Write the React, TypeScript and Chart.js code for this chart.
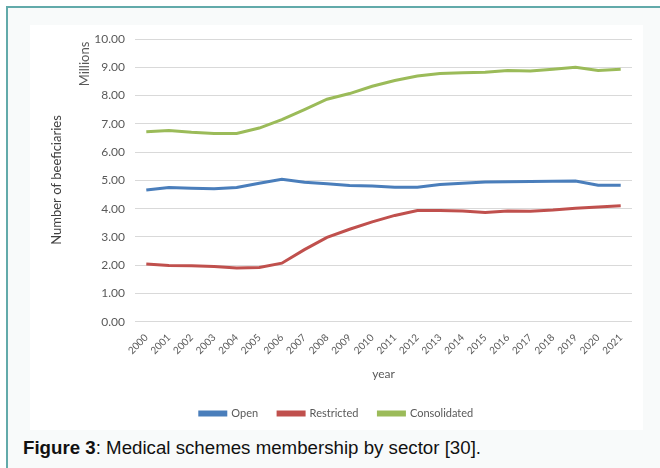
import React, { useEffect, useRef } from "react";
import { Chart, registerables } from "chart.js";

Chart.register(...registerables);

const years = [
  "2000", "2001", "2002", "2003", "2004", "2005", "2006", "2007", "2008", "2009", "2010",
  "2011", "2012", "2013", "2014", "2015", "2016", "2017", "2018", "2019", "2020", "2021",
];
const openValues = [
  4.66, 4.75, 4.72, 4.70, 4.75, 4.90, 5.04, 4.93, 4.88, 4.82, 4.80,
  4.76, 4.76, 4.85, 4.90, 4.94, 4.95, 4.96, 4.97, 4.98, 4.83, 4.83,
];
const restrictedValues = [
  2.04, 1.99, 1.98, 1.95, 1.90, 1.92, 2.07, 2.55, 2.98, 3.27, 3.53,
  3.76, 3.93, 3.93, 3.92, 3.86, 3.92, 3.91, 3.95, 4.01, 4.06, 4.10,
];
const consolidatedValues = [
  6.72, 6.76, 6.70, 6.66, 6.66, 6.85, 7.15, 7.50, 7.87, 8.07, 8.33,
  8.53, 8.69, 8.78, 8.81, 8.82, 8.89, 8.87, 8.93, 9.00, 8.89, 8.93,
];
const seriesNames = ["Open", "Restricted", "Consolidated"];
const seriesColors = ["#4a7ebb", "#c0504d", "#9bbb59"];
const yTitle = "Number of beeficiaries";
const yUnit = "Millions";
const xTitle = "year";

const FONT = "Lato, 'Open Sans', sans-serif";

export default function App() {
  const ref = useRef<HTMLCanvasElement>(null);

  useEffect(() => {
    if (!ref.current) return;
    const titlesPlugin = {
      id: "yTitles",
      afterDraw(chart: any) {
        const ctx = chart.ctx;
        ctx.save();
        ctx.fillStyle = "#404040";
        ctx.font = `13px ${FONT}`;
        ctx.textAlign = "center";
        ctx.textBaseline = "middle";
        ctx.translate(27, 155);
        ctx.rotate(-Math.PI / 2);
        ctx.fillText(yTitle, 0, 0);
        ctx.restore();
        ctx.save();
        ctx.fillStyle = "#595959";
        ctx.font = `13px ${FONT}`;
        ctx.textAlign = "center";
        ctx.textBaseline = "middle";
        ctx.translate(55, 39);
        ctx.rotate(-Math.PI / 2);
        ctx.fillText(yUnit, 0, 0);
        ctx.restore();
      },
    };
    const values = [openValues, restrictedValues, consolidatedValues];
    const chart = new Chart(ref.current, {
      type: "line",
      data: {
        labels: years,
        datasets: seriesNames.map((name, i) => ({
          label: name,
          data: values[i],
          borderColor: seriesColors[i],
          backgroundColor: seriesColors[i],
          borderWidth: 3,
          pointRadius: 0,
          tension: 0,
          fill: false,
          yAxisID: "y",
        })),
      },
      options: {
        animation: false,
        responsive: false,
        maintainAspectRatio: false,
        layout: { padding: { left: 0, right: 0, top: 14, bottom: 1 } },
        plugins: {
          tooltip: { enabled: false },
          legend: {
            position: "bottom",
            labels: {
              boxWidth: 26,
              boxHeight: 3,
              padding: 20,
              color: "#595959",
              font: { family: FONT, size: 11 },
            },
          },
        },
        scales: {
          x: {
            offset: true,
            grid: { display: false, drawTicks: false },
            border: { display: false },
            afterFit(scale: any) {
              scale.height -= 2;
            },
            ticks: {
              maxRotation: 45,
              minRotation: 45,
              autoSkip: false,
              padding: 10,
              color: "#595959",
              font: { family: FONT, size: 10 },
            },
            title: {
              display: true,
              text: xTitle,
              color: "#595959",
              font: { family: FONT, size: 12 },
              padding: { top: 2, bottom: 7 },
            },
          },
          y: {
            min: 0,
            max: 10,
            afterFit(scale: any) {
              scale.width = 105;
              scale.paddingTop = 0;
              scale.paddingBottom = 0;
            },
            grid: { color: "#d9d9d9", drawTicks: false, lineWidth: 1 },
            border: { display: false },
            ticks: {
              stepSize: 1,
              padding: 10,
              color: "#595959",
              font: { family: FONT, size: 12 },
              callback: (v: any) => Number(v).toFixed(2),
            },
          },
          yRight: {
            position: "right",
            min: 0,
            max: 10,
            grid: { display: false, drawTicks: false },
            border: { display: false },
            ticks: { display: false },
            afterFit(scale: any) {
              scale.width = 11;
              scale.paddingTop = 0;
              scale.paddingBottom = 0;
            },
          },
        },
      },
      plugins: [titlesPlugin],
    });
    return () => chart.destroy();
  }, []);

  return (
    <div style={{ position: "absolute", left: 0, top: 0, width: 660, height: 468, overflow: "hidden", background: "#fff" }}>
      <div
        style={{
          position: "absolute",
          left: 6,
          top: 6,
          width: 700,
          height: 500,
          borderLeft: "2px solid #62aaaa",
          borderTop: "2px solid #62aaaa",
          background: "#f8fafa",
        }}
      />
      <div style={{ position: "absolute", left: 30, top: 25, width: 613, height: 405, background: "#ffffff" }}>
        <canvas ref={ref} width={613} height={405} style={{ display: "block", width: 613, height: 405 }} />
      </div>
      <div
        style={{
          position: "absolute",
          left: 23,
          top: 437,
          fontFamily: "'Liberation Sans', Arial, sans-serif",
          fontSize: 18.7,
          lineHeight: "22px",
          color: "#111",
          whiteSpace: "nowrap",
        }}
      >
        <b>Figure 3</b>: Medical schemes membership by sector [30].
      </div>
    </div>
  );
}
